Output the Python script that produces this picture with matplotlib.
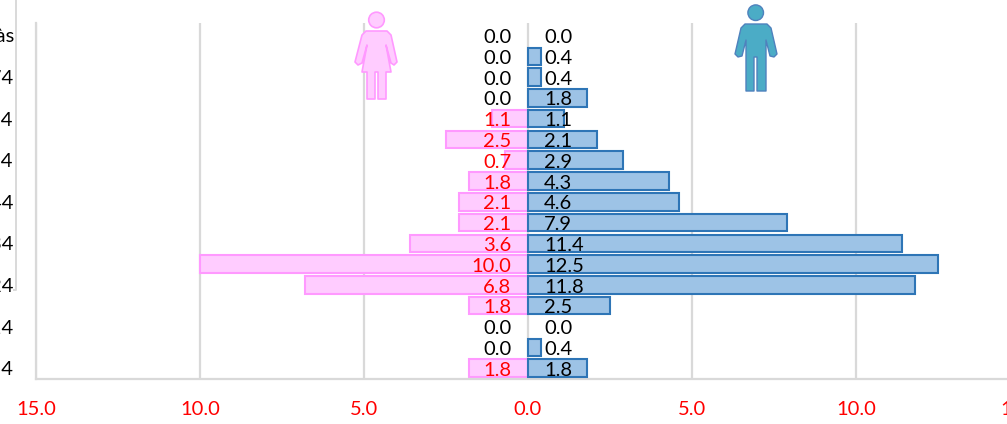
import matplotlib
matplotlib.use('Agg')
import matplotlib.pyplot as plt
from matplotlib.patches import Circle, Polygon

# youngest group first, so it ends up at the bottom
ages = ['0-4', '5-9', '10-14', '15-19', '20-24', '25-29', '30-34', '35-39', '40-44',
        '45-49', '50-54', '55-59', '60-64', '65-69', '70-74', '75-79', '80 às']
hommes = [1.8, 0.4, 0.0, 2.5, 11.8, 12.5, 11.4, 7.9, 4.6, 4.3, 2.9, 2.1, 1.1, 1.8, 0.4, 0.4, 0.0]
femmes = [1.8, 0.0, 0.0, 1.8, 6.8, 10.0, 3.6, 2.1, 2.1, 1.8, 0.7, 2.5, 1.1, 0.0, 0.0, 0.0, 0.0]
ticks = [-15, -10, -5, 0, 5, 10, 15]
tick_labels = ['15.0', '10.0', '5.0', '0.0', '5.0', '10.0', '15.0']

W, H = 1007, 424
GREY = '#D9D9D9'
FS = 14.5
plt.rcParams['font.family'] = ['Lato', 'DejaVu Sans']

fig = plt.figure(figsize=(W / 100, H / 100), dpi=100)
# axes runs past the right edge of the picture, same as the reference
ax = fig.add_axes([36 / W, (H - 378.5) / H, 984 / W, 355.5 / H])
ax.set_xlim(-15, 15)
ax.set_ylim(-0.5, 16.6)

y = range(len(ages))
# no outline on the empty bars, else a stray line shows at zero
ax.barh(y, [-v for v in femmes], height=0.84, color='#FFCCFF', edgecolor='#FF99FF',
        linewidth=[1.5 if v > 0 else 0 for v in femmes], zorder=2)
ax.barh(y, hommes, height=0.84, color='#9DC3E6', edgecolor='#2E75B6',
        linewidth=[1.5 if v > 0 else 0 for v in hommes], zorder=3)

for i in y:
    col = 'red' if femmes[i] > 0 else 'black'
    ax.text(-0.5, i - 0.1, '%.1f' % femmes[i], color=col, fontsize=FS, ha='right', va='center', zorder=5)
    ax.text(0.49, i - 0.1, '%.1f' % hommes[i], color='black', fontsize=FS, ha='left', va='center', zorder=5)

ax.set_xticks(ticks)
ax.set_xticklabels(tick_labels, color='red', fontsize=FS)
ax.set_yticks(list(y)[::2])
ax.set_yticklabels(ages[::2], fontsize=FS, color='black')
ax.tick_params(length=0)
ax.tick_params(axis='x', pad=16)
ax.tick_params(axis='y', pad=16)
ax.grid(axis='x', color=GREY, linewidth=1.6, zorder=0)
ax.set_axisbelow(True)
for s in ['top', 'right']:
    ax.spines[s].set_visible(False)
for s in ['left', 'bottom']:
    ax.spines[s].set_color(GREY)
    ax.spines[s].set_linewidth(1.6)

# overlay in pixel coords for the pictos and the leftover frame line
ov = fig.add_axes([0, 0, 1, 1], facecolor='none')
ov.set_xlim(0, W)
ov.set_ylim(H, 0)
ov.axis('off')
ov.plot([16, 16, 14], [0, 290, 290], color=GREY, lw=1.4)

f_body = [(366, 31), (387, 31), (391, 35), (397, 62), (394, 65), (391, 63), (386, 45), (391, 72),
          (386, 72), (386, 99), (378, 99), (378, 72), (375, 72), (375, 99), (367, 99), (367, 72),
          (362, 72), (367, 45), (362, 63), (358, 65), (355, 62), (362, 35)]
ov.add_patch(Polygon(f_body, closed=True, fc='#FFCCFF', ec='#FF99FF', lw=1.2, joinstyle='round', zorder=6))
ov.add_patch(Circle((376.5, 20), 7.8, fc='#FFCCFF', ec='#FF99FF', lw=1.2, zorder=6))

h_body = [(745, 24), (767, 24), (771, 28), (777, 54), (774, 57), (770, 56), (766, 40), (766, 91),
          (757, 91), (757, 57), (754, 57), (754, 91), (746, 91), (746, 40), (742, 56), (738, 57),
          (735, 54), (741, 28)]
ov.add_patch(Polygon(h_body, closed=True, fc='#4BACC6', ec='#4F81BD', lw=1, joinstyle='round', zorder=6))
ov.add_patch(Circle((755.7, 12.7), 7.8, fc='#4BACC6', ec='#4F81BD', lw=1, zorder=6))

fig.savefig('out.png', dpi=100)
